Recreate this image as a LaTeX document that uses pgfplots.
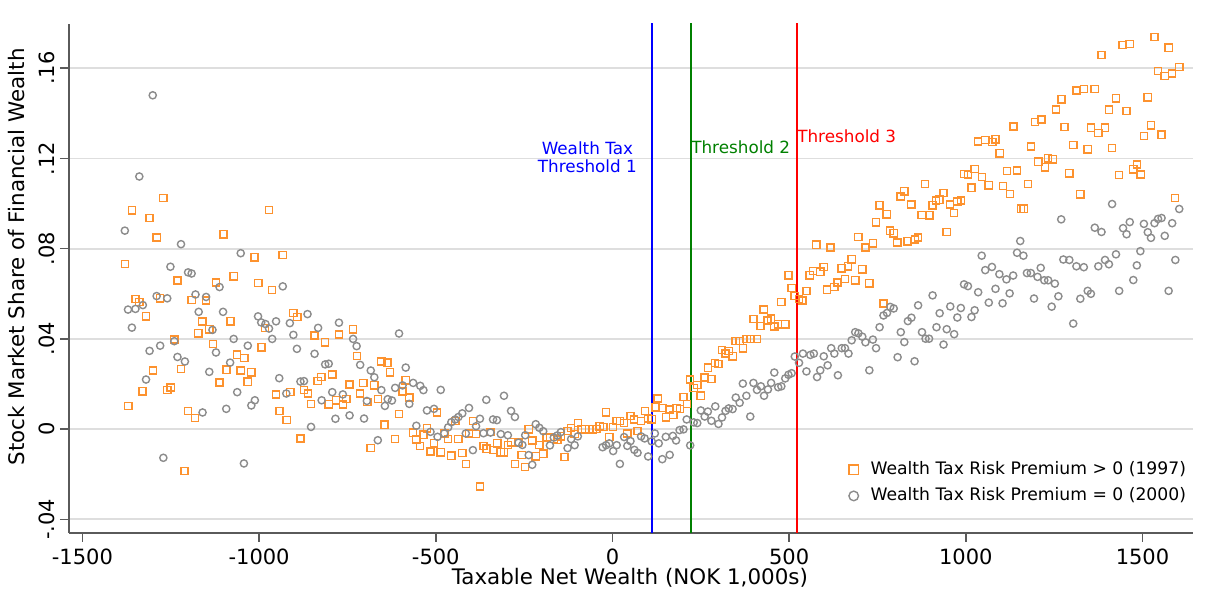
\documentclass[border=0pt]{standalone}
\usepackage{pgfplots}
\pgfplotsset{compat=1.18}
\usepackage{fontspec}
\setmainfont{DejaVu Sans}
\definecolor{orng}{RGB}{253,146,46}
\definecolor{gry}{RGB}{140,140,140}
\definecolor{axgray}{RGB}{90,90,90}
\definecolor{gridgray}{RGB}{222,222,222}
\definecolor{thgreen}{RGB}{0,128,0}
\begin{document}
\begin{tikzpicture}
\useasboundingbox (0,0) rectangle (606.5pt,305.5pt);
\begin{axis}[
  at={(34.5pt,39.15pt)}, anchor=south west,
  scale only axis, width=562pt, height=254.35pt,
  xmin=-1538, xmax=1643, ymin=-0.0459, ymax=0.1796,
  axis x line*=bottom, axis y line*=left,
  axis line style={axgray, line width=0.9pt},
  tick align=outside, major tick length=4.5pt,
  tick style={axgray, line width=0.8pt},
  xtick={-1500,-1000,-500,0,500,1000,1500},
  ytick={-0.04,0,0.04,0.08,0.12,0.16},
  yticklabels={-.04,0,.04,.08,.12,.16},
  yticklabel style={rotate=90, anchor=south, inner sep=2.5pt},
  /pgf/number format/assume math mode=true,
  /pgf/number format/1000 sep={},
  ticklabel style={font=\fontsize{10.5}{12}\selectfont},
  ymajorgrids, major grid style={gridgray, line width=0.9pt},
  xlabel={Taxable Net Wealth (NOK 1,000s)},
  ylabel={Stock Market Share of Financial Wealth},
  label style={font=\fontsize{10.7}{12}\selectfont},
  xlabel style={at={(axis description cs:0.499,-0.089)}, anchor=center},
  ylabel style={at={(axis description cs:-0.0463,0.542)}, anchor=center, rotate=0},
  legend style={at={(1.003,0.04)}, anchor=south east, draw=none, fill=none,
    font=\fontsize{8.6}{10}\selectfont, row sep=1pt,
    /tikz/every odd column/.append style={column sep=4pt}},
  legend cell align=left,
  legend image post style={mark size=2.4pt},
]
\addplot[blue, line width=1pt, forget plot] coordinates {(113,-0.06) (113,0.2)};
\addplot[thgreen, line width=1pt, forget plot] coordinates {(221,-0.06) (221,0.2)};
\addplot[red, line width=1pt, forget plot] coordinates {(521,-0.06) (521,0.2)};
\node[blue, align=center, anchor=east, inner sep=0pt, font=\fontsize{8.4}{8.6}\selectfont] at (axis cs:70,0.1205) {Wealth Tax\\Threshold 1};
\node[thgreen, anchor=west, inner sep=0pt, font=\fontsize{8.4}{10}\selectfont] at (axis cs:222,0.1251) {Threshold 2};
\node[red, anchor=west, inner sep=0pt, font=\fontsize{8.4}{10}\selectfont] at (axis cs:522,0.1300) {Threshold 3};
\addplot[only marks, mark=square, mark size=1.8pt, mark options={orng, line width=0.7pt}] table {
x y
-1380 .0732
-1370 .0102
-1360 .0970
-1350 .0577
-1339 .0563
-1330 .0168
-1320 .0500
-1310 .0936
-1300 .0260
-1290 .0850
-1280 .0580
-1271 .1025
-1260 .0174
-1250 .0185
-1240 .0397
-1231 .0659
-1221 .0267
-1211 -.0186
-1201 .0081
-1191 .0573
-1181 .0050
-1172 .0425
-1161 .0477
-1150 .0570
-1141 .0443
-1131 .0378
-1122 .0650
-1112 .0207
-1101 .0864
-1092 .0264
-1081 .0478
-1072 .0678
-1062 .0330
-1052 .0260
-1042 .0316
-1032 .0210
-1022 .0252
-1013 .0762
-1002 .0648
-993 .0363
-983 .0449
-972 .0972
-963 .0617
-952 .0154
-942 .0080
-933 .0772
-922 .0041
-912 .0165
-903 .0515
-892 .0497
-883 -.0041
-873 .0173
-862 .0158
-853 .0112
-843 .0415
-834 .0213
-824 .0232
-814 .0385
-803 .0110
-793 .0242
-782 .0128
-774 .0420
-763 .0109
-753 .0133
-744 .0198
-734 .0443
-723 .0325
-714 .0158
-705 .0204
-694 .0120
-684 -.0083
-674 .0194
-664 .0133
-654 .0300
-645 .0020
-637 .0295
-630 .0252
-615 -.0043
-604 .0068
-594 .0168
-585 .0217
-575 .0140
-564 -.0016
-555 -.0046
-545 -.0074
-535 -.0025
-525 .0004
-515 -.0099
-505 -.0063
-496 .0074
-486 -.0103
-476 -.0019
-465 -.0043
-456 -.0118
-445 .0037
-436 -.0043
-425 -.0106
-415 -.0154
-406 -.0019
-395 .0037
-386 -.0021
-375 -.0254
-365 -.0074
-356 -.0087
-345 -.0012
-336 -.0093
-326 -.0063
-316 -.0103
-307 -.0103
-296 -.0071
-287 -.0058
-276 -.0154
-266 -.0060
-257 -.0115
-247 -.0167
-237 -.0001
-227 -.0050
-217 -.0120
-207 -.0071
-196 -.0109
-186 -.0037
-176 -.0034
-166 -.0043
-156 -.0047
-146 -.0032
-136 -.0123
-127 -.0009
-117 .0006
-107 -.0022
-98 .0028
-87 -.0001
-78 -.0001
-66 -.0001
-56 -.0001
-45 .0000
-36 .0013
-26 .0009
-18 .0075
-9 -.0035
2 .0009
12 .0037
21 .0037
33 .0027
42 -.0019
51 .0058
61 .0043
71 -.0008
81 .0037
92 .0080
101 .0047
111 .0044
122 .0097
128 .0136
141 .0094
152 .0053
162 .0087
172 .0062
182 .0094
191 .0090
201 .0143
211 .0111
220 .0220
230 .0183
240 .0196
250 .0148
261 .0229
270 .0272
280 .0222
290 .0294
300 .0288
310 .0351
320 .0335
329 .0347
340 .0323
349 .0391
360 .0391
369 .0358
380 .0399
391 .0399
399 .0489
409 .0399
419 .0458
428 .0530
439 .0482
449 .0490
458 .0455
469 .0465
478 .0564
489 .0465
498 .0682
507 .0626
516 .0590
528 .0577
538 .0570
549 .0612
558 .0682
568 .0701
577 .0818
588 .0698
598 .0718
607 .0618
617 .0805
628 .0630
637 .0650
648 .0713
658 .0665
667 .0722
677 .0753
687 .0660
696 .0852
707 .0709
716 .0805
727 .0647
737 .0824
746 .0917
756 .0992
767 .0557
776 .0952
786 .0880
796 .0868
806 .0827
816 .1031
826 .1054
835 .0833
846 .0996
856 .0841
865 .0850
875 .0949
885 .1086
897 .0948
906 .0992
916 .1014
925 .1017
937 .1047
946 .0874
955 .0996
967 .0959
976 .1009
986 .1014
995 .1131
1006 .1129
1016 .1070
1025 .1154
1034 .1275
1046 .1118
1055 .1282
1065 .1081
1075 .1273
1084 .1285
1096 .1223
1105 .1077
1116 .1145
1125 .1042
1135 .1342
1145 .1147
1156 .0977
1164 .0977
1176 .1086
1185 .1253
1196 .1362
1205 .1186
1214 .1373
1224 .1161
1233 .1201
1246 .1196
1255 .1417
1271 .1462
1279 .1340
1293 .1134
1304 .1260
1313 .1501
1324 .1041
1334 .1507
1345 .1241
1354 .1336
1365 .1507
1375 .1312
1384 .1658
1394 .1336
1405 .1416
1414 .1247
1425 .1467
1434 .1126
1444 .1703
1455 .1411
1464 .1707
1474 .1152
1484 .1173
1495 .1129
1504 .1300
1515 .1471
1524 .1347
1534 .1739
1544 .1588
1554 .1305
1563 .1565
1574 .1691
1583 .1577
1592 .1024
1604 .1605
};
\addlegendentry{Wealth Tax Risk Premium > 0 (1997)}
\addplot[only marks, mark=o, mark size=1.8pt, mark options={gry, line width=0.7pt}] table {
x y
-1380 .0880
-1371 .0530
-1360 .0450
-1350 .0533
-1339 .1120
-1329 .0550
-1320 .0220
-1310 .0347
-1301 .1480
-1290 .0590
-1280 .0370
-1271 -.0127
-1260 .0580
-1251 .0720
-1240 .0390
-1231 .0320
-1221 .0820
-1210 .0300
-1201 .0695
-1191 .0690
-1180 .0597
-1171 .0520
-1160 .0074
-1150 .0586
-1141 .0254
-1132 .0440
-1122 .0340
-1112 .0630
-1102 .0520
-1093 .0090
-1082 .0295
-1072 .0400
-1062 .0164
-1052 .0780
-1043 -.0152
-1032 .0370
-1022 .0105
-1012 .0128
-1003 .0500
-994 .0473
-982 .0466
-972 .0446
-963 .0400
-952 .0478
-943 .0226
-933 .0633
-923 .0158
-913 .0470
-903 .0418
-893 .0356
-883 .0211
-873 .0213
-863 .0510
-853 .0010
-843 .0334
-833 .0449
-823 .0128
-813 .0287
-803 .0290
-793 .0164
-784 .0046
-774 .0472
-763 .0154
-744 .0061
-734 .0400
-724 .0368
-714 .0285
-703 .0047
-695 .0125
-684 .0260
-674 .0230
-664 -.0049
-654 .0173
-644 .0103
-636 .0133
-624 .0127
-615 .0183
-604 .0424
-594 .0194
-585 .0273
-575 .0112
-564 .0205
-555 .0015
-544 .0192
-535 .0173
-525 .0083
-515 -.0012
-505 .0090
-495 -.0034
-486 .0174
-476 -.0019
-465 .0008
-456 .0031
-445 .0043
-436 .0054
-425 .0070
-415 -.0019
-406 .0094
-395 -.0093
-386 .0013
-375 .0046
-365 -.0018
-357 .0130
-345 -.0015
-338 .0043
-327 .0040
-316 -.0022
-307 .0148
-296 -.0027
-287 .0081
-276 .0054
-266 -.0060
-255 -.0070
-247 -.0027
-237 -.0115
-227 -.0158
-217 .0022
-207 .0006
-196 -.0009
-177 -.0072
-166 -.0037
-156 -.0028
-146 -.0013
-127 -.0084
-117 -.0044
-107 -.0071
-98 -.0032
-28 -.0080
-18 -.0071
-9 -.0063
2 -.0097
12 -.0071
21 -.0154
33 -.0035
42 -.0074
51 -.0053
62 -.0092
71 -.0105
81 -.0032
91 -.0041
101 -.0121
111 -.0054
120 -.0019
131 -.0063
141 -.0133
151 -.0034
162 -.0114
171 -.0030
180 -.0050
190 -.0004
201 -.0001
210 .0043
220 -.0072
230 .0030
240 .0027
250 .0083
261 .0056
270 .0078
280 .0037
291 .0101
300 .0023
310 .0052
320 .0081
329 .0092
340 .0089
349 .0140
360 .0117
369 .0202
379 .0148
390 .0056
399 .0205
409 .0174
420 .0190
429 .0148
440 .0176
449 .0205
458 .0251
469 .0186
478 .0190
489 .0225
498 .0241
507 .0248
516 .0322
528 .0294
539 .0335
549 .0256
560 .0329
570 .0335
579 .0231
588 .0261
598 .0323
609 .0283
619 .0359
628 .0335
638 .0239
649 .0359
658 .0359
668 .0335
677 .0394
687 .0430
696 .0425
707 .0410
716 .0385
727 .0261
737 .0397
746 .0359
756 .0452
767 .0504
777 .0515
786 .0542
796 .0535
807 .0319
816 .0430
826 .0386
836 .0479
846 .0494
855 .0301
865 .0549
876 .0430
886 .0401
896 .0401
906 .0593
917 .0452
926 .0514
937 .0375
946 .0443
956 .0544
967 .0421
976 .0495
986 .0537
995 .0642
1006 .0634
1016 .0497
1025 .0527
1035 .0607
1045 .0769
1055 .0705
1065 .0561
1074 .0719
1084 .0622
1095 .0687
1104 .0558
1115 .0664
1124 .0602
1134 .0681
1145 .0782
1154 .0834
1163 .0769
1173 .0692
1184 .0692
1193 .0579
1203 .0675
1212 .0715
1222 .0660
1233 .0660
1243 .0543
1252 .0645
1262 .0589
1270 .0930
1276 .0752
1293 .0750
1304 .0468
1313 .0722
1324 .0578
1334 .0718
1345 .0613
1354 .0600
1365 .0893
1375 .0722
1384 .0874
1394 .0750
1405 .0731
1414 .0998
1425 .0775
1434 .0613
1445 .0891
1455 .0864
1464 .0918
1474 .0661
1484 .0726
1494 .0789
1504 .0910
1515 .0873
1524 .0848
1534 .0913
1544 .0932
1554 .0936
1563 .0857
1574 .0613
1584 .0913
1593 .0750
1604 .0976
};
\addlegendentry{Wealth Tax Risk Premium = 0 (2000)}
\end{axis}
\end{tikzpicture}
\end{document}
